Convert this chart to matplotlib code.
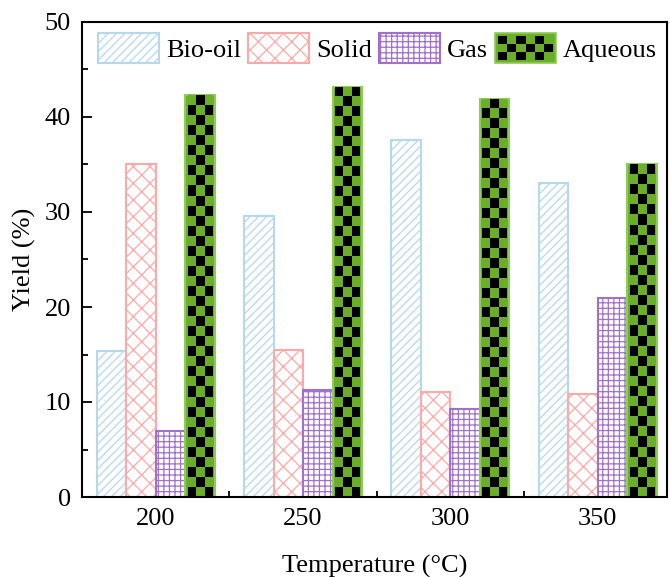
import numpy as np
import matplotlib
matplotlib.use("Agg")
import matplotlib.pyplot as plt
from matplotlib.patches import Rectangle, Patch
from matplotlib.legend_handler import HandlerBase
from matplotlib.ticker import MultipleLocator

# data
temperatures = ["200", "250", "300", "350"]
series = ["Bio-oil", "Solid", "Gas", "Aqueous"]
bio_oil = [15.4, 29.6, 37.6, 33.0]
solid = [35.0, 15.5, 11.1, 10.8]
gas = [7.0, 11.3, 9.3, 21.0]
aqueous = [42.3, 43.2, 41.9, 35.0]

GREEN = "#6aae2a"
GREEN_EDGE = "#8fcb5a"
BLACK = "#000000"
BLUE = "#b5d8ec"
PINK = "#ffa8a8"
PURPLE = "#a070cc"

plt.rcParams["font.family"] = ["Liberation Serif", "DejaVu Serif"]
plt.rcParams["hatch.linewidth"] = 0.9


class CheckerHandler(HandlerBase):
    # green box with black checkerboard, like Origin's pattern
    def create_artists(self, legend, orig_handle, xdescent, ydescent,
                       width, height, fontsize, trans):
        arts = [Rectangle((-xdescent, -ydescent), width, height,
                          facecolor=GREEN, edgecolor=GREEN_EDGE, lw=1.2,
                          transform=trans)]
        nx, ny = 6, 3
        pad = width * 0.05
        cw = (width - 2 * pad) / nx
        ch = (height - 2 * pad) / ny
        for i in range(nx):
            for j in range(ny):
                if (i + j) % 2 == 0:
                    arts.append(Rectangle((-xdescent + pad + i * cw,
                                           -ydescent + pad + (ny - 1 - j) * ch),
                                          cw, ch, facecolor=BLACK, lw=0,
                                          transform=trans))
        return arts


fig = plt.figure(figsize=(6.7, 5.77), dpi=100)
ax = fig.add_axes([82 / 670, 80 / 577, 585 / 670, 475 / 577])

x = np.arange(len(temperatures))
w = 0.2
ax.bar(x - 1.5 * w, bio_oil, w, facecolor="white", edgecolor=BLUE,
       hatch="////", lw=1.5, zorder=2)
ax.bar(x - 0.5 * w, solid, w, facecolor="white", edgecolor=PINK,
       hatch="xx", lw=1.5, zorder=2)
ax.bar(x + 0.5 * w, gas, w, facecolor="white", edgecolor=PURPLE,
       hatch="+++", lw=1.5, zorder=2)
aq_bars = ax.bar(x + 1.5 * w, aqueous, w, facecolor=GREEN,
                 edgecolor=GREEN_EDGE, lw=1.5, zorder=2)

# checkerboard texture for the aqueous bars
px_per_y = 475 / 50
checker_cmap = matplotlib.colors.ListedColormap([BLACK, GREEN])
for b in aq_bars:
    x0, y0 = b.get_x(), b.get_y()
    bw, bh = b.get_width(), b.get_height()
    ny = max(1, int(round(bh * px_per_y / 10)))
    board = (np.indices((ny, 3)).sum(axis=0) % 2).astype(float)
    inset = bw * 0.08
    im = ax.imshow(board, cmap=checker_cmap,
                   extent=(x0 + inset, x0 + bw - inset, y0, y0 + bh),
                   interpolation="nearest", aspect="auto", zorder=2.1,
                   origin="lower")
    im.set_clip_path(b)

ax.set_xlim(-0.5, 3.47)
ax.set_ylim(0, 50)

ax.set_xticks(x)
ax.set_xticklabels(temperatures)
ax.set_xticks(x[:-1] + 0.5, minor=True)
ax.yaxis.set_major_locator(MultipleLocator(10))
ax.yaxis.set_minor_locator(MultipleLocator(5))
ax.tick_params(which="both", direction="in", top=False, right=False,
               width=1.3, labelsize=19)
ax.tick_params(which="major", length=7, pad=8)
ax.tick_params(which="minor", length=4)
for s in ax.spines.values():
    s.set_linewidth(1.5)

ax.set_xlabel("Temperature (°C)", fontsize=19, labelpad=18)
ax.set_ylabel("Yield (%)", fontsize=19, labelpad=6)

handles = [Patch(facecolor="white", edgecolor=BLUE, hatch="////", lw=1.5),
           Patch(facecolor="white", edgecolor=PINK, hatch="xx", lw=1.5),
           Patch(facecolor="white", edgecolor=PURPLE, hatch="+++", lw=1.5),
           Patch(facecolor=GREEN)]
ax.legend(handles, series, handler_map={handles[3]: CheckerHandler()},
          loc="upper left", bbox_to_anchor=(0.01, 1.0), ncol=4,
          frameon=False, fontsize=19, handlelength=2.3, handleheight=1.4,
          handletextpad=0.27, columnspacing=0.27, borderaxespad=0.2,
          borderpad=0.2)

fig.savefig("out.png", dpi=100)
